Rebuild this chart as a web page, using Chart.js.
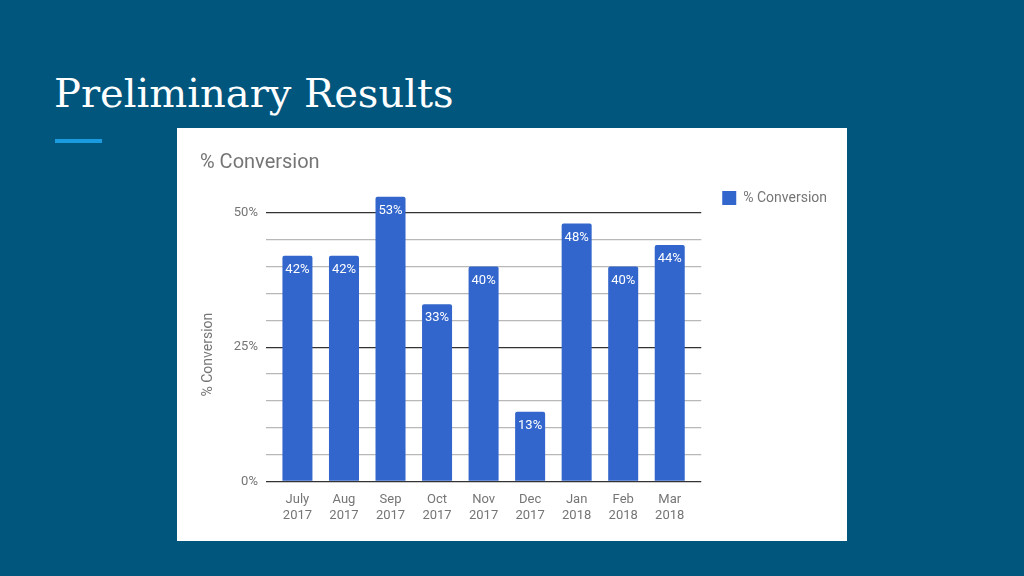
<!DOCTYPE html>
<html>
<head>
<meta charset="utf-8">
<script src="https://cdn.jsdelivr.net/npm/chart.js@4/dist/chart.umd.min.js"></script>
<style>
  html, body { margin: 0; padding: 0; }
  body { width: 1024px; height: 576px; background: #01567e; position: relative; overflow: hidden; }
  #title {
    position: absolute; left: 54px; top: 70px; margin: 0;
    font-family: "DejaVu Serif", serif; font-weight: normal;
    font-size: 40px; color: #ffffff; white-space: nowrap;
  }
  #accent { position: absolute; left: 55px; top: 139px; width: 47px; height: 4px; background: #1a9be0; }
  #box { position: absolute; left: 177px; top: 128px; width: 670px; height: 413px; background: #ffffff; }
</style>
</head>
<body>
<h1 id="title">Preliminary Results</h1>
<div id="accent"></div>
<div id="box"><canvas id="convChart" width="670" height="413"></canvas></div>
<script>
// chart data
const months = [['July', '2017'], ['Aug', '2017'], ['Sep', '2017'], ['Oct', '2017'], ['Nov', '2017'],
                ['Dec', '2017'], ['Jan', '2018'], ['Feb', '2018'], ['Mar', '2018']];
const conversion = [42, 42, 53, 33, 40, 13, 48, 40, 44];
const majorTicks = [0, 25, 50];

// white % labels just inside the top of each bar
const barLabels = {
    id: 'barLabels',
    afterDatasetsDraw(chart) {
        const ctx = chart.ctx;
        const meta = chart.getDatasetMeta(0);
        ctx.save();
        ctx.fillStyle = '#ffffff';
        ctx.font = '13px Roboto';
        ctx.textAlign = 'center';
        ctx.textBaseline = 'middle';
        meta.data.forEach(function(bar, i) {
            ctx.fillText(conversion[i] + '%', bar.x, bar.y + 14);
        });
        ctx.restore();
    }
};

const ctx = document.getElementById('convChart').getContext('2d');
const convChart = new Chart(ctx, {
    type: 'bar',
    data: {
        datasets: [{
            label: '% Conversion',
            data: conversion.map(function(v, i) { return { x: i, y: v }; }),
            backgroundColor: '#3366cc',
            borderRadius: 2,
            borderSkipped: 'bottom',
            barPercentage: 0.645,
            categoryPercentage: 1
        }]
    },
    options: {
        responsive: false,
        animation: false,
        devicePixelRatio: 1,
        layout: { padding: { left: 23, right: 10, top: 0, bottom: 15 } },
        plugins: {
            title: {
                display: true,
                text: '% Conversion',
                align: 'start',
                color: '#757575',
                font: { family: 'Roboto', size: 20, weight: 'normal' },
                padding: { top: 23, bottom: 11 }
            },
            legend: {
                position: 'right',
                align: 'start',
                // blank legend title only pushes the item down
                title: {
                    display: true,
                    text: ' ',
                    font: { size: 10 },
                    padding: { top: 30, bottom: 0 }
                },
                labels: {
                    color: '#757575',
                    font: { family: 'Roboto', size: 14 },
                    boxWidth: 14,
                    boxHeight: 14,
                    padding: 21
                }
            },
            tooltip: { enabled: false }
        },
        scales: {
            y: {
                min: 0,
                max: 55,
                border: { display: false },
                ticks: {
                    stepSize: 5,
                    color: '#757575',
                    font: { family: 'Roboto', size: 13 },
                    padding: 8,
                    callback: function(v) { return majorTicks.includes(v) ? v + '%' : ''; }
                },
                grid: {
                    drawTicks: false,
                    color: function(c) {
                        const v = c.tick.value;
                        if (v > 50) return 'rgba(0,0,0,0)';
                        return majorTicks.includes(v) ? '#333333' : '#b8b8b8';
                    },
                    lineWidth: 1.3
                },
                title: {
                    display: true,
                    text: '% Conversion            ',
                    color: '#757575',
                    font: { family: 'Roboto', size: 14 },
                    padding: { top: 0, bottom: 9 }
                }
            },
            x: {
                type: 'linear',
                min: -0.677,
                max: 8.677,
                offset: false,
                border: { display: false },
                grid: { display: false },
                afterBuildTicks: function(s) {
                    s.ticks = months.map(function(m, i) { return { value: i }; });
                },
                ticks: {
                    autoSkip: false,
                    maxRotation: 0,
                    color: '#757575',
                    font: { family: 'Roboto', size: 13, lineHeight: 1.25 },
                    padding: 2,
                    callback: function(v) {
                        return months[v] ? months[v] : '';
                    }
                }
            }
        }
    },
    plugins: [barLabels]
});
</script>
</body>
</html>
